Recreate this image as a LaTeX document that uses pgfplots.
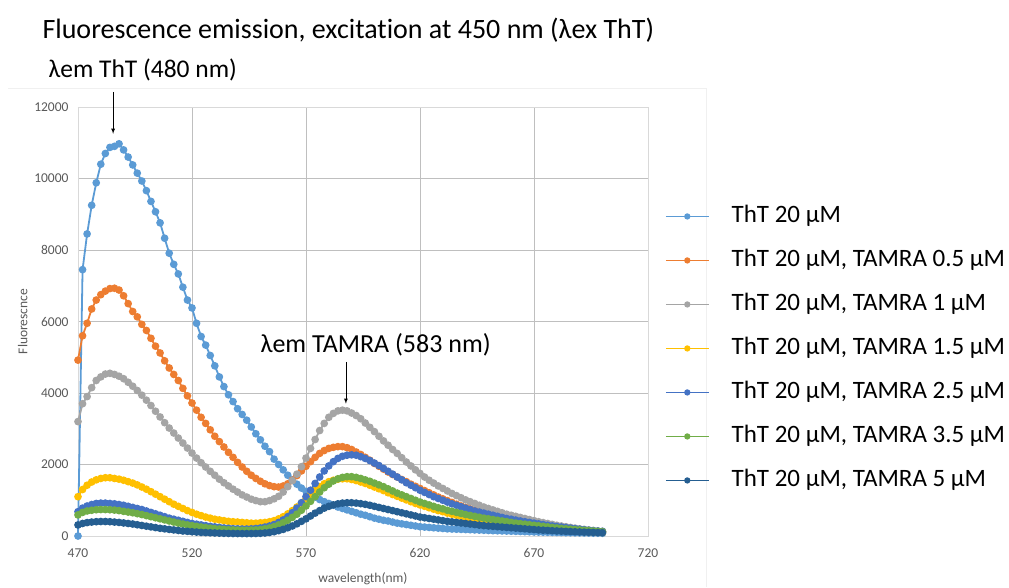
\documentclass[border=0pt]{standalone}
\usepackage{fontspec}
\setmainfont{Carlito}[Ligatures=NoCommon]
\usepackage{pgfplots}
\usepackage{pgfplotstable}
\pgfplotsset{compat=1.18}

\definecolor{cA}{HTML}{5B9BD5}
\definecolor{cB}{HTML}{ED7D31}
\definecolor{cC}{HTML}{A5A5A5}
\definecolor{cD}{HTML}{FFC000}
\definecolor{cE}{HTML}{4472C4}
\definecolor{cF}{HTML}{70AD47}
\definecolor{cG}{HTML}{255E91}
\definecolor{tick}{HTML}{595959}
\definecolor{grid}{HTML}{D9D9D9}

% wavelength (nm) and emission for ThT 20 uM with TAMRA 0 / 0.5 / 1 / 1.5 / 2.5 / 3.5 / 5 uM
\pgfplotstableread{
wl  A     B    C    D    E    F    G
470 0     4920 3200 1100 680  590  310
472 7450  5600 3700 1300 780  660  350
474 8450  5950 3900 1420 840  700  375
476 9250  6350 4150 1510 880  720  390
478 9880  6600 4350 1570 910  735  400
480 10400 6750 4450 1610 920  740  405
482 10700 6850 4530 1630 920  740  405
484 10870 6920 4550 1630 910  735  400
486 10900 6930 4520 1610 900  725  390
488 10970 6880 4470 1590 880  710  380
490 10800 6720 4400 1560 860  690  365
492 10600 6500 4300 1520 830  670  350
494 10380 6280 4190 1480 800  650  335
496 10150 6130 4070 1430 770  625  315
498 9930  5920 3940 1370 740  600  295
500 9660  5750 3800 1310 700  570  275
502 9360  5530 3650 1240 660  540  255
504 9070  5310 3490 1170 620  510  235
506 8760  5120 3330 1100 580  480  215
508 8330  4900 3170 1030 540  450  200
510 7910  4700 3020 960  500  420  185
512 7600  4520 2880 890  470  390  170
514 7330  4350 2740 830  440  360  155
516 6960  4130 2600 770  410  335  140
518 6600  3920 2460 710  380  310  130
520 6380  3720 2320 660  350  290  120
522 5950  3520 2180 610  330  270  110
524 5580  3320 2050 570  310  250  100
526 5340  3150 1930 530  290  235  95
528 5050  2970 1810 500  270  220  90
530 4760  2790 1700 470  255  205  85
532 4450  2640 1590 450  240  195  80
534 4180  2490 1490 430  225  185  75
536 3950  2340 1400 410  215  175  72
538 3760  2200 1310 400  205  170  70
540 3560  2060 1230 390  200  165  68
542 3400  1930 1150 380  195  160  67
544 3240  1810 1090 370  195  160  67
546 3050  1700 1030 360  200  165  68
548 2860  1610 990  360  210  170  70
550 2690  1530 960  370  225  180  75
552 2510  1460 960  380  250  200  85
554 2360  1410 990  400  280  225  100
556 2150  1380 1040 430  320  260  120
558 2000  1370 1110 480  380  310  150
560 1850  1400 1230 540  450  370  185
562 1700  1460 1380 620  540  440  230
564 1570  1560 1550 710  650  520  280
566 1450  1690 1730 810  780  610  340
568 1340  1820 1940 920  930  720  410
570 1250  1950 2180 1040 1100 840  480
572 1170  2080 2450 1160 1280 970  560
574 1090  2200 2700 1280 1470 1100 640
576 1020  2310 2950 1380 1650 1230 710
578 960   2390 3150 1460 1820 1350 780
580 910   2450 3320 1520 1960 1450 830
582 860   2480 3430 1560 2080 1540 870
584 810   2500 3500 1590 2170 1600 900
586 770   2500 3520 1600 2230 1640 920
588 730   2470 3500 1600 2260 1660 930
590 690   2420 3440 1580 2270 1660 930
592 650   2350 3370 1550 2260 1640 920
594 610   2280 3280 1510 2220 1610 905
596 580   2200 3160 1470 2170 1570 885
598 540   2120 3040 1420 2110 1530 860
600 500   2030 2920 1370 2040 1480 830
602 470   1950 2790 1320 1970 1430 800
604 440   1870 2660 1270 1890 1380 770
606 420   1790 2540 1210 1810 1320 740
608 390   1720 2420 1160 1730 1260 710
610 360   1650 2310 1110 1650 1200 680
612 340   1580 2190 1060 1570 1150 650
614 320   1520 2070 1010 1490 1100 620
616 300   1450 1960 960  1420 1050 590
618 280   1390 1850 910  1350 1000 560
620 260   1330 1750 870  1280 950  530
622 250   1270 1650 830  1220 910  510
624 240   1210 1560 790  1160 870  490
626 230   1150 1480 750  1100 830  470
628 220   1090 1400 710  1050 790  450
630 210   1040 1330 680  1000 760  430
632 200   990  1260 640  950  720  410
634 195   940  1190 610  900  690  395
636 190   890  1130 580  860  660  380
638 185   840  1070 550  820  630  365
640 180   800  1010 520  780  600  350
642 175   760  960  490  740  575  335
644 170   720  910  470  700  550  320
646 165   680  860  440  670  525  305
648 160   640  810  420  640  500  290
650 155   600  770  400  610  480  280
652 150   570  730  380  580  460  270
654 146   540  690  360  550  440  260
656 142   510  650  340  520  420  250
658 138   480  610  320  490  400  240
660 134   450  580  300  470  380  230
662 130   420  550  285  445  360  220
664 126   400  520  270  420  345  210
666 122   370  490  255  400  330  200
668 118   350  460  240  380  315  190
670 114   330  430  225  360  300  180
672 110   310  400  210  340  285  170
674 107   290  375  200  320  270  162
676 104   270  350  190  300  255  155
678 101   250  325  180  280  240  148
680 98    235  300  170  265  225  141
682 95    220  280  160  250  210  135
684 92    205  260  150  235  200  129
686 90    190  240  142  220  190  123
688 88    180  220  135  205  180  118
690 86    170  200  128  190  170  113
692 84    160  185  121  175  160  108
694 82    150  170  115  160  150  104
696 80    140  155  110  150  140  100
698 78    130  140  105  140  130  96
700 76    120  130  100  130  120  92
}\spectra

\begin{document}
\begin{tikzpicture}
\useasboundingbox (-78pt,-51pt) rectangle (931pt,536pt);
\draw[gray!12] (-70pt,448pt) -- (628pt,448pt) -- (628pt,-51pt);
\begin{axis}[
    scale only axis,
    width=570pt, height=429pt,
    xmin=470, xmax=720, ymin=0, ymax=12000,
    xtick={470,520,...,720},
    ytick={0,2000,...,12000},
    scaled y ticks=false,
    grid=major,
    major grid style={grid, line width=0.6pt},
    axis line style={grid, line width=0.6pt},
    major tick length=0pt,
    clip=false,
    tick label style={font=\fontsize{13.5}{14}\selectfont, text=tick},
    /pgf/number format/assume math mode=true,
    /pgf/number format/1000 sep={},
    yticklabel style={xshift=-6pt},
    xticklabel style={yshift=-9pt},
    xlabel={wavelength(nm)},
    xlabel style={at={(rel axis cs:0.5,0)}, yshift=-43pt, anchor=center,
        font=\fontsize{13.5}{14}\selectfont, text=tick},
    ylabel={Fluorescnce},
    ylabel style={font=\fontsize{13.5}{14}\selectfont, text=tick, xshift=0pt},
    every axis plot/.append style={line width=1.8pt, mark=*, mark size=2.9pt},
    legend cell align=left,
    legend image code/.code={\draw[mark repeat=2,mark phase=2,#1, mark size=2.2pt]
        plot coordinates {(0pt,0pt) (21.5pt,0pt) (43pt,0pt)};},
    legend style={at={(rel axis cs:1.024,0.778)}, anchor=north west,
        draw=none, fill=none, font=\fontsize{25}{26}\selectfont,
        nodes={inner sep=0pt, text height=18pt, text depth=6pt},
        row sep=20pt,
        /tikz/every odd column/.append style={column sep=22pt}},
]
\addplot[cA, mark options={fill=cA}] table[x=wl, y=A] {\spectra};
\addplot[cB, mark options={fill=cB}] table[x=wl, y=B] {\spectra};
\addplot[cC, mark options={fill=cC}] table[x=wl, y=C] {\spectra};
\addplot[cD, mark options={fill=cD}] table[x=wl, y=D] {\spectra};
\addplot[cE, mark options={fill=cE}] table[x=wl, y=E] {\spectra};
\addplot[cF, mark options={fill=cF}] table[x=wl, y=F] {\spectra};
\addplot[cG, mark options={fill=cG}] table[x=wl, y=G] {\spectra};
\legend{ThT 20 µM, {ThT 20 µM, TAMRA 0.5 µM}, {ThT 20 µM, TAMRA 1 µM},
    {ThT 20 µM, TAMRA 1.5 µM}, {ThT 20 µM, TAMRA 2.5 µM},
    {ThT 20 µM, TAMRA 3.5 µM}, {ThT 20 µM, TAMRA 5 µM}}

\node[anchor=west, font=\fontsize{28}{29}\selectfont] at ([xshift=-39pt, yshift=77pt]rel axis cs:0,1)
    {Fluorescence emission, excitation at 450 nm (λex ThT)};
\node[anchor=west, font=\fontsize{25.5}{26}\selectfont] at ([xshift=-33pt, yshift=37pt]rel axis cs:0,1)
    {λem ThT (480 nm)};
\draw[-latex, line width=0.8pt] (axis cs:485.4,12420) -- (axis cs:485.4,11250);
\node[anchor=west, font=\fontsize{26}{27}\selectfont] at (axis cs:548.5,5340)
    {λem TAMRA (583 nm)};
\draw[-latex, line width=0.8pt] (axis cs:587.5,4870) -- (axis cs:587.5,3700);
\end{axis}
\end{tikzpicture}
\end{document}
